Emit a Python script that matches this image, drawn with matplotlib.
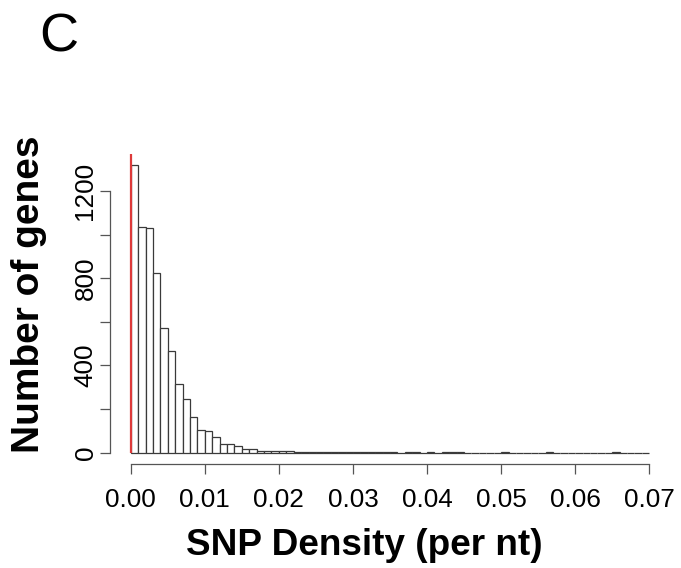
import numpy as np
import matplotlib
matplotlib.use("Agg")
import matplotlib.pyplot as plt

plt.rcParams["font.family"] = ["Liberation Sans", "DejaVu Sans"]

# histogram of SNP density, bins of 0.001 from 0 to 0.07
bin_width = 0.001
counts = [1318, 1034, 1030, 824, 570, 466, 314, 248, 161, 102,
          98, 72, 38, 37, 28, 15, 14, 6, 9, 9,
          6, 5, 1, 3, 3, 1, 2, 2, 1, 2,
          1, 2, 1, 2, 2, 1, 0, 1, 2, 0,
          1, 0, 2, 2, 1, 0, 0, 0, 0, 0,
          1, 0, 0, 0, 0, 0, 1, 0, 0, 0,
          0, 0, 0, 0, 0, 1, 0, 0, 0, 0]
red_line_x = 0.0001

x_ticks = [0.00, 0.01, 0.02, 0.03, 0.04, 0.05, 0.06, 0.07]
x_ticklabels = ["0.00", "0.01", "0.02", "0.03", "0.04", "0.05", "0.06", "0.07"]
y_ticks = [0, 200, 400, 600, 800, 1000, 1200]
y_ticklabels = ["0", "", "400", "", "800", "", "1200"]

lefts = np.arange(len(counts)) * bin_width
xmax = len(counts) * bin_width
ymax = max(counts)

fig = plt.figure(figsize=(6.81, 5.68), dpi=100)
ax = fig.add_axes([110 / 681, 1 - 464 / 568, 560 / 681, 310 / 568])

ax.bar(lefts, counts, width=bin_width, align="edge", color="white",
       edgecolor="#3a3a3a", linewidth=0.9)
ax.vlines(red_line_x, 0, ymax * 1.04, color="#dd3a3a", linewidth=1.6)

ax.set_xlim(-0.04 * xmax, 1.04 * xmax)
ax.set_ylim(-0.04 * ymax, 1.04 * ymax)

for s in ["top", "right"]:
    ax.spines[s].set_visible(False)
for s in ["left", "bottom"]:
    ax.spines[s].set_color("#555555")
    ax.spines[s].set_linewidth(0.9)
ax.spines["bottom"].set_bounds(0, xmax)
ax.spines["left"].set_bounds(0, 1200)

ax.set_xticks(x_ticks)
ax.set_xticklabels(x_ticklabels)
ax.set_yticks(y_ticks)
ax.set_yticklabels(y_ticklabels, rotation=90, va="center", ha="right")
ax.tick_params(axis="both", direction="out", length=7, width=0.9,
               color="#555555", labelsize=18.8)
ax.tick_params(axis="x", pad=10)
ax.tick_params(axis="y", pad=2)

fig.text(364 / 681, 1 - 555 / 568, "SNP Density (per nt)", fontsize=26.6,
         fontweight="bold", ha="center", va="baseline")
fig.text(39 / 681, 1 - 294 / 568, "Number of genes", fontsize=28,
         fontweight="bold", ha="center", va="baseline", rotation=90,
         rotation_mode="anchor")
fig.text(39 / 681, 1 - 52 / 568, "C", fontsize=39, ha="left", va="baseline")

fig.savefig("out.png", dpi=100)
